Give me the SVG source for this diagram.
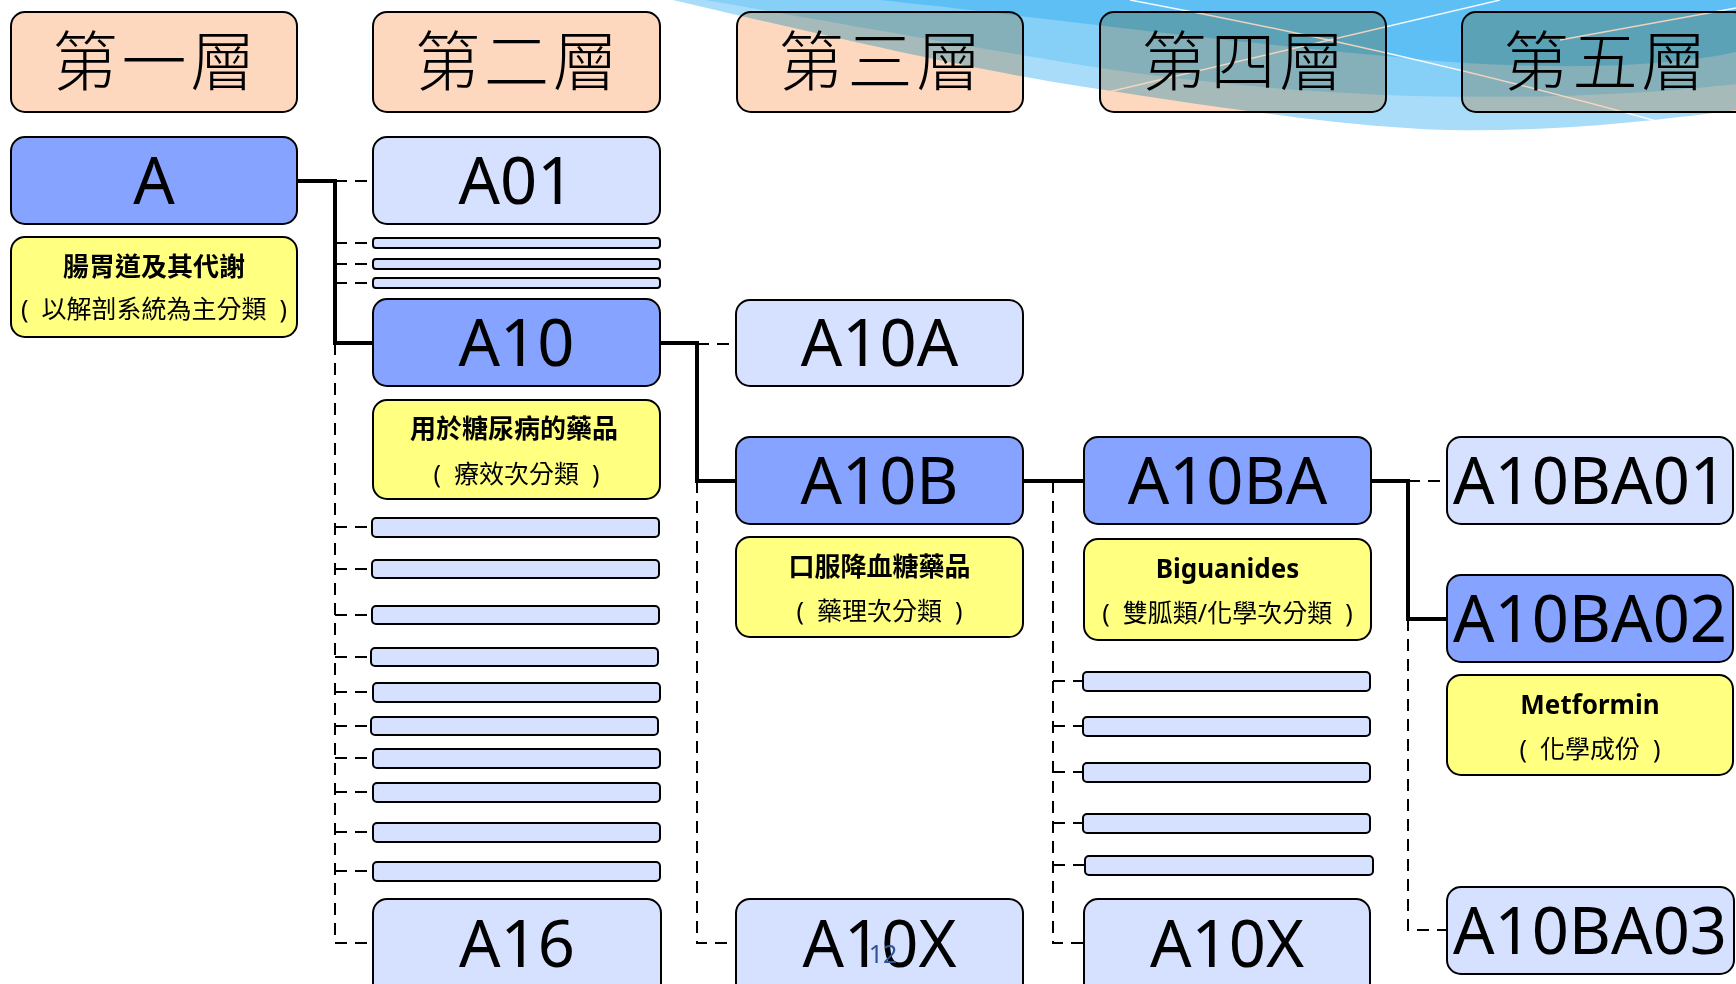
<svg xmlns="http://www.w3.org/2000/svg" width="1736" height="984" viewBox="0 0 1736 984">
<style>
.hdr{fill:#FDD8BF;stroke:#000;stroke-width:2;mix-blend-mode:multiply}
.hdt{font-family:"Noto Sans CJK TC","Noto Sans CJK SC",sans-serif;font-size:65px;font-weight:300;letter-spacing:4px;fill:#000;text-anchor:middle}
.dk{fill:#85A3FF;stroke:#000;stroke-width:2}
.lt{fill:#D6E0FF;stroke:#000;stroke-width:2}
.bar{fill:#D6E0FF;stroke:#000;stroke-width:2}
.yl{fill:#FFFF80;stroke:#000;stroke-width:2}
.nt{font-family:"Noto Sans","Open Sans",sans-serif;font-size:65px;fill:#000;text-anchor:middle}
.y1{font-family:"Noto Sans","Noto Sans CJK TC",sans-serif;font-size:26px;font-weight:bold;fill:#000;text-anchor:middle}
.y2{font-family:"Noto Sans","Noto Sans CJK TC",sans-serif;font-size:25px;fill:#000;text-anchor:middle}
.solid{fill:none;stroke:#000;stroke-width:4}
.dash{fill:none;stroke:#000;stroke-width:2;stroke-dasharray:12 8}
.wl{fill:none;stroke:#fff;stroke-width:1.5;opacity:0.9}
</style>
<rect width="1736" height="984" fill="#fff"/>
<g id="wave">
<path d="M673 0 C800 30 950 65 1060 83 C1200 105 1350 128 1450 130 C1560 132 1660 120 1736 110 V0 Z" fill="#A8DCF9"/>
<path d="M705 0 C850 25 1000 52 1100 68 C1250 90 1400 100 1560 96 C1650 93 1700 88 1736 84 V0 Z" fill="#86CFF7"/>
<path d="M880 0 C1000 12 1200 40 1450 62 C1600 72 1690 62 1736 52 V0 Z" fill="#5DBFF4"/>
<path class="wl" d="M1130 0 Q1400 50 1660 122"/>
<path class="wl" d="M1040 108 L1500 0"/>
<path class="wl" d="M1560 40 L1736 8"/>
</g>
<g id="headers">
<rect class="hdr" x="11" y="12" width="286" height="100" rx="14"/>
<rect class="hdr" x="373" y="12" width="287" height="100" rx="14"/>
<rect class="hdr" x="737" y="12" width="286" height="100" rx="14"/>
<rect class="hdr" x="1100" y="12" width="286" height="100" rx="14"/>
<rect class="hdr" x="1462" y="12" width="286" height="100" rx="14"/>
<text class="hdt" x="156" y="85">第一層</text>
<text class="hdt" x="518.5" y="85">第二層</text>
<text class="hdt" x="882" y="85">第三層</text>
<text class="hdt" x="1245" y="85">第四層</text>
<text class="hdt" x="1607" y="85">第五層</text>
</g>
<g id="connectors">
<path class="solid" d="M297 181 H335 V343 H373"/>
<path class="solid" d="M660 343 H697 V481 H736"/>
<path class="solid" d="M1022 481 H1084"/>
<path class="solid" d="M1371 481 H1408 V619 H1447"/>
<path class="dash" d="M335 181 H373"/>
<path class="dash" d="M335 243 H373 M335 264 H373 M335 283 H373"/>
<path class="dash" d="M335 343 V943 H373"/>
<path class="dash" d="M335 527 H372 M335 569 H372 M335 615 H372 M335 657 H372 M335 692 H372 M335 726 H372 M335 758 H372 M335 792 H372 M335 832 H372 M335 871 H372"/>
<path class="dash" d="M697 344 H736"/>
<path class="dash" d="M697 481 V943 H736"/>
<path class="dash" d="M1053 481 V943 H1084"/>
<path class="dash" d="M1053 681 H1083 M1053 726 H1083 M1053 772 H1083 M1053 823 H1083 M1053 865 H1085"/>
<path class="dash" d="M1408 481 H1447"/>
<path class="dash" d="M1408 619 V930 H1447"/>
</g>
<g id="n-A"><rect class="dk" x="11" y="137" width="286" height="87" rx="14"/><text class="nt" x="154" y="204">A</text></g>
<g id="d-A"><rect class="yl" x="11" y="237" width="286" height="100" rx="14"/><text class="y1" x="154" y="276">腸胃道及其代謝</text><text class="y2" x="154" y="318">(&#160;&#160;以解剖系統為主分類&#160;&#160;)</text></g>
<g id="n-A01"><rect class="lt" x="373" y="137" width="287" height="87" rx="14"/><text class="nt" x="516.5" y="204">A01</text></g>
<g id="bars-A-upper">
<rect class="bar" x="373" y="238" width="287" height="10" rx="3"/>
<rect class="bar" x="373" y="259" width="287" height="10" rx="3"/>
<rect class="bar" x="373" y="278" width="287" height="10" rx="3"/>
</g>
<g id="n-A10"><rect class="dk" x="373" y="299" width="287" height="87" rx="14"/><text class="nt" x="516.5" y="366">A10</text></g>
<g id="d-A10"><rect class="yl" x="373" y="400" width="287" height="99" rx="14"/><text class="y1" x="514" y="438">用於糖尿病的藥品</text><text class="y2" x="516.5" y="483">(&#160;&#160;療效次分類&#160;&#160;)</text></g>
<g id="bars-A-lower">
<rect class="bar" x="372" y="518" width="287" height="19" rx="4"/>
<rect class="bar" x="372" y="560" width="287" height="18" rx="4"/>
<rect class="bar" x="372" y="606" width="287" height="18" rx="4"/>
<rect class="bar" x="371" y="648" width="287" height="18" rx="4"/>
<rect class="bar" x="373" y="683" width="287" height="19" rx="4"/>
<rect class="bar" x="371" y="717" width="287" height="18" rx="4"/>
<rect class="bar" x="373" y="749" width="287" height="19" rx="4"/>
<rect class="bar" x="373" y="783" width="287" height="19" rx="4"/>
<rect class="bar" x="373" y="823" width="287" height="19" rx="4"/>
<rect class="bar" x="373" y="862" width="287" height="19" rx="4"/>
</g>
<g id="n-A16"><rect class="lt" x="373" y="899" width="288" height="100" rx="14"/><text class="nt" x="517" y="967">A16</text></g>
<g id="n-A10A"><rect class="lt" x="736" y="300" width="287" height="86" rx="14"/><text class="nt" x="879.5" y="366">A10A</text></g>
<g id="n-A10B"><rect class="dk" x="736" y="437" width="287" height="87" rx="14"/><text class="nt" x="879.5" y="504">A10B</text></g>
<g id="d-A10B"><rect class="yl" x="736" y="537" width="287" height="100" rx="14"/><text class="y1" x="879.5" y="576">口服降血糖藥品</text><text class="y2" x="879.5" y="620">(&#160;&#160;藥理次分類&#160;&#160;)</text></g>
<g id="n-A10X-3"><rect class="lt" x="736" y="899" width="287" height="100" rx="14"/><text class="nt" x="879.5" y="967">A10X</text></g>
<g id="n-A10BA"><rect class="dk" x="1084" y="437" width="287" height="87" rx="14"/><text class="nt" x="1227.5" y="504">A10BA</text></g>
<g id="d-A10BA"><rect class="yl" x="1084" y="539" width="287" height="101" rx="14"/><text class="y1" x="1227.5" y="578">Biguanides</text><text class="y2" x="1227.5" y="622">(&#160;&#160;雙胍類/化學次分類&#160;&#160;)</text></g>
<g id="bars-A10B">
<rect class="bar" x="1083" y="672" width="287" height="19" rx="4"/>
<rect class="bar" x="1083" y="717" width="287" height="19" rx="4"/>
<rect class="bar" x="1083" y="763" width="287" height="19" rx="4"/>
<rect class="bar" x="1083" y="814" width="287" height="19" rx="4"/>
<rect class="bar" x="1085" y="856" width="288" height="19" rx="4"/>
</g>
<g id="n-A10X-4"><rect class="lt" x="1084" y="899" width="286" height="100" rx="14"/><text class="nt" x="1227" y="967">A10X</text></g>
<g id="n-A10BA01"><rect class="lt" x="1447" y="437" width="286" height="87" rx="14"/><text class="nt" x="1590" y="504">A10BA01</text></g>
<g id="n-A10BA02"><rect class="dk" x="1447" y="575" width="286" height="87" rx="14"/><text class="nt" x="1590" y="642">A10BA02</text></g>
<g id="d-A10BA02"><rect class="yl" x="1447" y="675" width="286" height="100" rx="14"/><text class="y1" x="1590" y="714">Metformin</text><text class="y2" x="1590" y="758">(&#160;&#160;化學成份&#160;&#160;)</text></g>
<g id="n-A10BA03"><rect class="lt" x="1447" y="887" width="287" height="87" rx="14"/><text class="nt" x="1590" y="954">A10BA03</text></g>
<text x="883" y="963" font-family="'Noto Sans','Open Sans',sans-serif" font-size="25" fill="#2F5597" text-anchor="middle">12</text>
</svg>
